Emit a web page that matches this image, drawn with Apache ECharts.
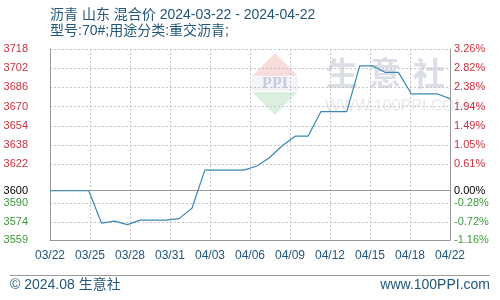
<!DOCTYPE html>
<html>
<head>
<meta charset="utf-8">
<script src="https://cdn.jsdelivr.net/npm/echarts@6/dist/echarts.min.js"></script>
<style>html,body{margin:0;padding:0;background:#fff}#c{width:500px;height:300px}</style>
</head>
<body>
<div id="c"></div>
<script>
const dates = ['03/22','03/23','03/24','03/25','03/26','03/27','03/28','03/29','03/30','03/31',
  '04/01','04/02','04/03','04/04','04/05','04/06','04/07','04/08','04/09','04/10','04/11',
  '04/12','04/13','04/14','04/15','04/16','04/17','04/18','04/19','04/20','04/21','04/22'];
const prices = [3600,3600,3600,3600,3573,3574.7,3571.8,3575.5,3575.5,3575.5,3576.8,3585.4,
  3617.2,3617.2,3617.2,3617.2,3620.4,3627.5,3637.5,3645.4,3645.4,3665.9,3665.9,3665.9,
  3704,3704,3698.5,3698.5,3680.7,3680.7,3680.7,3676.7];
const baseValue = 3600;
const leftTicks = [3559,3574,3590,3600,3622,3638,3654,3670,3686,3702,3718];
const pctLabels = ['-1.16%','-0.72%','-0.28%','0.00%','0.61%','1.05%','1.49%','1.94%','2.38%','2.82%','3.26%'];
const titleLine1 = '沥青 山东 混合价 2024-03-22 - 2024-04-22';
const titleLine2 = '型号:70#;用途分类:重交沥青;';
const footerLeft = '© 2024.08 生意社';
const footerRight = 'www.100PPI.com';

const FONT = '"Liberation Sans", "Noto Sans CJK SC", sans-serif';
const TEXT_BLUE = '#22577a';
function labelColor(v) {
  const n = Number(v);
  if (n > baseValue) return '#c8323c';
  if (n < baseValue) return '#3a9a3a';
  return '#000';
}
const WM = 'rgba(175,182,200,0.45)';

const chart = echarts.init(document.getElementById('c'), null, {renderer: 'canvas'});
chart.setOption({
  animation: false,
  backgroundColor: '#fff',
  grid: {left: 50, right: 50, top: 49, bottom: 60},
  xAxis: {
    type: 'value', min: 0, max: dates.length - 1, interval: (dates.length - 1) / 10,
    axisLine: {show: true, lineStyle: {color: '#999'}},
    axisTick: {show: false},
    axisLabel: {
      fontFamily: FONT, fontSize: 12, color: TEXT_BLUE, margin: 10,
      formatter: v => dates[Math.floor(v + 1e-6)]
    },
    splitLine: {show: true, lineStyle: {color: '#c4c4c4', type: [2, 2]}}
  },
  yAxis: [{
    type: 'value', min: leftTicks[0], max: leftTicks[leftTicks.length - 1], position: 'left',
    axisLine: {show: true, lineStyle: {color: '#999'}},
    axisTick: {show: false, customValues: leftTicks},
    axisLabel: {fontFamily: FONT, fontSize: 11, margin: 22, customValues: leftTicks,
      formatter: v => String(v), color: labelColor},
    splitLine: {show: true, lineStyle: {color: '#c4c4c4', type: [2, 2]}}
  }, {
    type: 'value', min: leftTicks[0], max: leftTicks[leftTicks.length - 1], position: 'right',
    axisLine: {show: true, lineStyle: {color: '#999'}},
    axisTick: {show: false, customValues: leftTicks},
    axisLabel: {fontFamily: FONT, fontSize: 11, margin: 4, customValues: leftTicks,
      formatter: v => pctLabels[leftTicks.indexOf(Number(v))], color: labelColor},
    splitLine: {show: false}
  }],
  series: [{
    type: 'line', yAxisIndex: 0,
    data: prices.map((p, i) => [i, p]),
    symbol: 'none', lineStyle: {color: '#3a87b5', width: 1.2}, z: 5,
    markLine: {silent: true, symbol: 'none', label: {show: false},
      lineStyle: {color: '#999', type: 'solid', width: 1.2},
      data: [{yAxis: baseValue}]}
  }],
  graphic: [
    {type: 'text', left: 50, top: 8, style: {text: titleLine1, font: '14px ' + FONT, fill: TEXT_BLUE}},
    {type: 'text', left: 50, top: 24, style: {text: titleLine2, font: '14px ' + FONT, fill: TEXT_BLUE}},
    {type: 'line', shape: {x1: 10, y1: 275.5, x2: 490, y2: 275.5}, style: {stroke: '#999', lineWidth: 1}},
    {type: 'text', left: 10, top: 278, style: {text: footerLeft, font: '14px ' + FONT, fill: TEXT_BLUE}},
    {type: 'text', right: 10, top: 278, style: {text: footerRight, font: '14px ' + FONT, fill: TEXT_BLUE}},
    // watermark
    {type: 'group', z: 0, silent: true, children: [
      {type: 'polygon', shape: {points: [[275,53],[252,76],[298,76]]}, style: {fill: 'rgba(235,140,140,0.3)'}},
      {type: 'rect', shape: {x: 252, y: 77, width: 46, height: 14}, style: {fill: 'rgba(200,205,220,0.22)'}},
      {type: 'text', x: 275, y: 84, style: {text: 'PPI', font: 'bold 16px "Liberation Serif", serif', fill: 'rgba(110,130,185,0.35)', align: 'center', verticalAlign: 'middle'}},
      {type: 'polygon', shape: {points: [[252,92],[298,92],[275,115]]}, style: {fill: 'rgba(140,205,150,0.32)'}},
      {type: 'text', x: 326, y: 73, style: {text: '生', font: 'bold 32px "Noto Sans CJK SC", sans-serif', fill: WM, verticalAlign: 'middle'}},
      {type: 'text', x: 369, y: 73, style: {text: '意', font: 'bold 32px "Noto Sans CJK SC", sans-serif', fill: WM, verticalAlign: 'middle'}},
      {type: 'text', x: 413, y: 73, style: {text: '社', font: 'bold 32px "Noto Sans CJK SC", sans-serif', fill: WM, verticalAlign: 'middle'}},
      {type: 'text', x: 325, y: 107, style: {text: 'WWW.100PPI.COM', font: '16px "Liberation Sans", sans-serif', fill: 'rgba(185,190,205,0.35)', verticalAlign: 'middle'}}
    ]}
  ]
});
</script>
</body>
</html>
